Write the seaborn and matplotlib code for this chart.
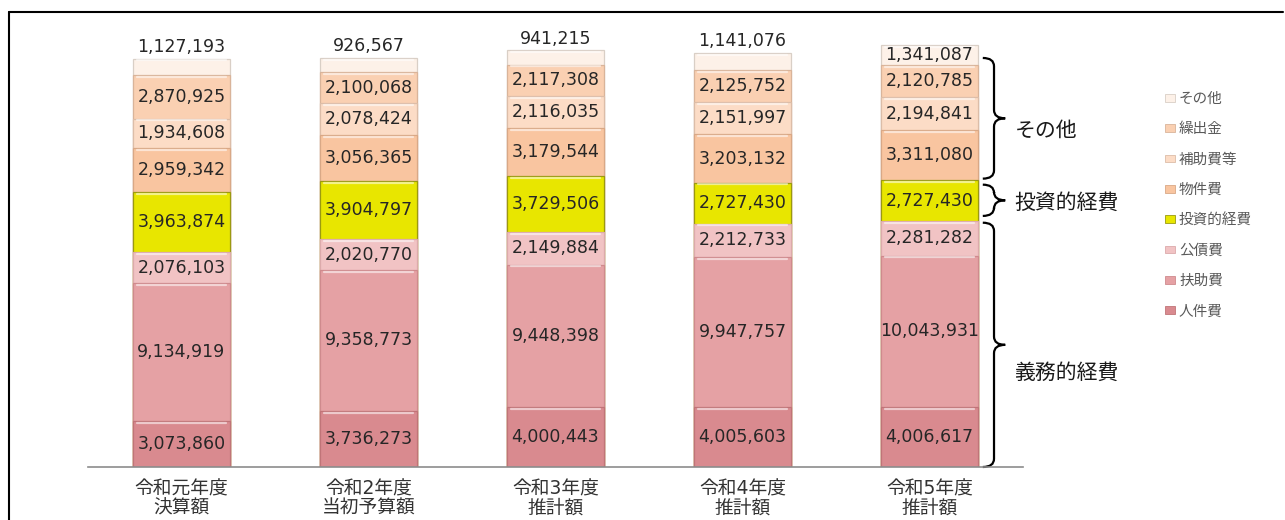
import numpy as np
import pandas as pd
import matplotlib
matplotlib.use("Agg")
import matplotlib.pyplot as plt
import seaborn as sns
from matplotlib.path import Path
from matplotlib.patches import PathPatch, Patch
from matplotlib.lines import Line2D

# ---------------- data ----------------
years = ["令和元年度\n決算額", "令和2年度\n当初予算額", "令和3年度\n推計額", "令和4年度\n推計額", "令和5年度\n推計額"]
items = ["人件費", "扶助費", "公債費", "投資的経費", "物件費", "補助費等", "繰出金", "その他"]

jinkenhi = [3073860, 3736273, 4000443, 4005603, 4006617]
fujohi = [9134919, 9358773, 9448398, 9947757, 10043931]
kousaihi = [2076103, 2020770, 2149884, 2212733, 2281282]
toushi = [3963874, 3904797, 3729506, 2727430, 2727430]
bukkenhi = [2959342, 3056365, 3179544, 3203132, 3311080]
hojohi = [1934608, 2078424, 2116035, 2151997, 2194841]
kuridashi = [2870925, 2100068, 2117308, 2125752, 2120785]
sonota = [1127193, 926567, 941215, 1141076, 1341087]

series = [jinkenhi, fujohi, kousaihi, toushi, bukkenhi, hojohi, kuridashi, sonota]
colors = ["#d98a8f", "#e5a1a4", "#f1c3c4", "#e8e600", "#f9c5a0", "#fcdcc6", "#fad0b2", "#fdf1e8"]
edges = ["#c07478", "#cf8a8d", "#dcaaab", "#9a9a10", "#d9a886", "#dcbda8", "#d9b49a", "#d9cfc6"]

groups = ["その他", "投資的経費", "義務的経費"]

# ---------------- figure ----------------
sns.set_theme(style="white")
plt.rcParams["font.family"] = ["DejaVu Sans", "Noto Sans CJK JP"]

W, H = 1285, 520
fig = plt.figure(figsize=(W / 100, H / 100), dpi=100)
ax = fig.add_axes([88 / W, 53 / H, (1023 - 88) / W, 447 / H])

vals = np.array(series, dtype=float)  # shape (items, years)
cum = np.cumsum(vals, axis=0)
bottoms = cum - vals

df = pd.DataFrame({"year": np.tile(years, len(items)),
                   "item": np.repeat(items, len(years)),
                   "top": cum.flatten()})

# draw from the top layer downwards so each lower cumulative bar overdraws
for i in range(len(items) - 1, -1, -1):
    sub = df[df["item"] == items[i]]
    sns.barplot(data=sub, x="year", y="top", order=years, color=colors[i],
                width=0.52, edgecolor=edges[i], linewidth=0.9, ax=ax,
                saturation=1, errorbar=None)

# subtle highlight on top of each segment
for i in range(len(items)):
    for j in range(len(years)):
        ax.plot([j - 0.24, j + 0.24], [cum[i, j] - 0.12e6] * 2,
                color="white", alpha=0.55, lw=1.6, solid_capstyle="round")

ax.set_xlim(-0.5, 4.5)
ax.set_ylim(0, 29.7e6)
ax.set_xlabel("")
ax.set_ylabel("")
ax.set_yticks([])
for s in ["top", "right", "left"]:
    ax.spines[s].set_visible(False)
ax.spines["bottom"].set_color("#8c8c8c")
ax.spines["bottom"].set_linewidth(1.2)
ax.tick_params(axis="x", length=0, pad=9, labelsize=13.5, colors="#333333")
for t in ax.get_xticklabels():
    t.set_linespacing(1.0)

# value labels
for i in range(len(items)):
    for j in range(len(years)):
        v = vals[i, j]
        txt = f"{int(v):,}"
        if i == len(items) - 1 and v < 1.2e6:
            ax.annotate(txt, (j, cum[i, j]), xytext=(0, 2), textcoords="offset points",
                        ha="center", va="bottom", fontsize=12.5, color="#262626")
        else:
            ax.text(j, bottoms[i, j] + v / 2, txt, ha="center", va="center",
                    fontsize=12.5, color="#262626")

# braces on the right of last bar
def brace(ax, x0, w, y0, y1, h):
    xm, xt = x0 + w * 0.5, x0 + w
    ym = (y0 + y1) / 2
    verts = [(x0, y1), (xm, y1), (xm, y1 - h),
             (xm, ym + h), (xm, ym), (xt, ym),
             (xm, ym), (xm, ym - h),
             (xm, y0 + h), (xm, y0), (x0, y0)]
    codes = [Path.MOVETO, Path.CURVE3, Path.CURVE3,
             Path.LINETO, Path.CURVE3, Path.CURVE3,
             Path.CURVE3, Path.CURVE3,
             Path.LINETO, Path.CURVE3, Path.CURVE3]
    p = PathPatch(Path(verts, codes), fill=False, lw=1.6, color="black", clip_on=False)
    ax.add_patch(p)
    return ym

last = len(years) - 1
spans = [(bottoms[4, last] + 0.1e6, cum[7, last] - 0.85e6),
         (bottoms[3, last] + 0.35e6, cum[3, last] - 0.3e6),
         (0, cum[2, last] - 0.1e6)]
offs = [-9, -2, -20]
for (y0, y1), lab, off in zip(spans, groups, offs):
    ym = brace(ax, 4.285, 0.12, y0, y1, 0.55e6)
    ax.annotate(lab, (4.455, ym), xytext=(0, off), textcoords="offset points",
                ha="left", va="center", fontsize=15, color="#1a1a1a",
                annotation_clip=False)

# legend
handles = [Patch(facecolor=colors[i], edgecolor=edges[i], linewidth=0.6)
           for i in range(len(items) - 1, -1, -1)]
labels = [items[i] for i in range(len(items) - 1, -1, -1)]
fig.legend(handles, labels, loc="upper left", bbox_to_anchor=(1152 / W, 1 - 78 / H),
           frameon=False, fontsize=10.5, labelcolor="#595959", handlelength=0.7,
           handleheight=0.45, handletextpad=0.25, labelspacing=1.05)

# outer frame lines
fig.add_artist(Line2D([9 / W, 9 / W], [0, 1 - 12 / H], color="black", lw=1.5))
fig.add_artist(Line2D([9 / W, 1283 / W], [1 - 12 / H, 1 - 12 / H], color="black", lw=1.5))

fig.savefig("out.png", dpi=100)
